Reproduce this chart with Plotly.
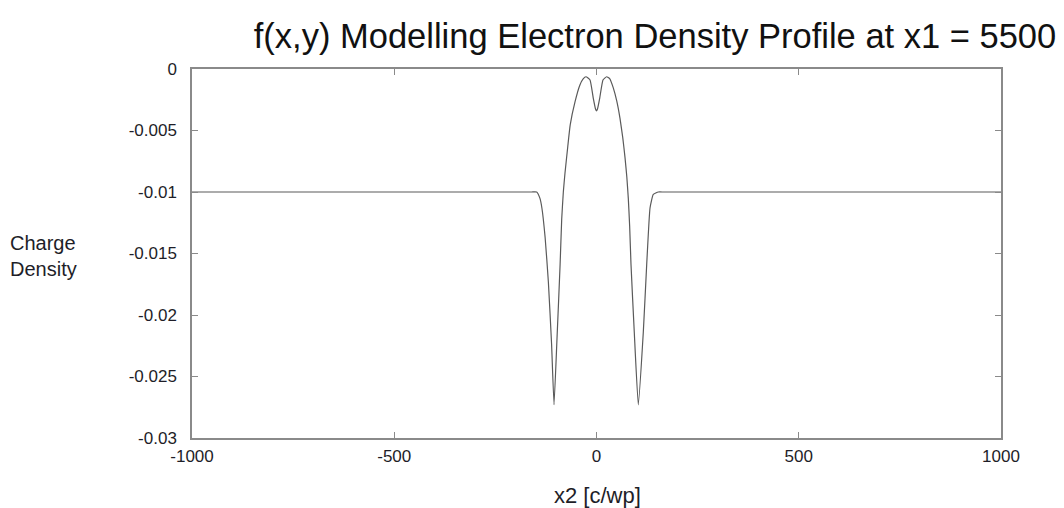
import plotly.graph_objects as go

# Data
x2 = [-1000, -600, -300, -175, -160, -148, -140, -135, -127, -119, -111, -105,
      -98, -90, -86, -82, -78, -71, -65, -53, -41, -33, -26, -16, -8, -2, 0, 2,
      8, 16, 25, 33, 41.5, 50, 58, 65, 70.5, 75, 78.6, 82, 85.3, 93.4, 103.3,
      115.7, 124.1, 132.3, 140.4, 152.8, 165, 180, 300, 600, 1000]
charge_density = [-0.01, -0.01, -0.01, -0.01, -0.01, -0.01, -0.0105, -0.0113,
                  -0.0137, -0.0173, -0.0224, -0.0273, -0.0222, -0.0159,
                  -0.0122, -0.0100, -0.0085, -0.0063, -0.00455, -0.00266,
                  -0.0013, -0.0008, -0.00063, -0.00089, -0.00236, -0.0033,
                  -0.0034, -0.0033, -0.00236, -0.00089, -0.00063, -0.0008,
                  -0.00154, -0.0026, -0.0040, -0.0056, -0.0072, -0.0088,
                  -0.0105, -0.0128, -0.0159, -0.0214, -0.0273, -0.0214,
                  -0.0159, -0.0113, -0.0102, -0.0100, -0.0100, -0.0100,
                  -0.0100, -0.0100, -0.0100]

x_ticks = [-1000, -500, 0, 500, 1000]
y_ticks = [0, -0.005, -0.01, -0.015, -0.02, -0.025, -0.03]
y_tick_labels = ["0", "-0.005", "-0.01", "-0.015", "-0.02", "-0.025", "-0.03"]

FONT = "Liberation Sans, Arial, sans-serif"
TXT = "#1e1e28"

fig = go.Figure()
fig.add_trace(go.Scatter(
    x=x2, y=charge_density, mode="lines",
    line=dict(color="#5a5a5a", width=1.2, shape="spline", smoothing=0.4),
    showlegend=False, hoverinfo="skip",
))

axis_common = dict(
    showgrid=False, zeroline=False, showline=True, linecolor="#8a8a8a",
    linewidth=1.5, mirror="ticks", ticks="inside", ticklen=6,
    tickcolor="#8a8a8a", tickwidth=1.2,
    tickfont=dict(family=FONT, size=17, color=TXT),
)

fig.update_xaxes(range=[-1000, 1000], tickvals=x_ticks,
                 ticktext=[str(v) for v in x_ticks], ticklabelstandoff=2,
                 **axis_common)
fig.update_yaxes(range=[-0.03, 0], tickvals=y_ticks, ticktext=y_tick_labels,
                 ticklabelstandoff=10, **axis_common)

def px_x(p):
    return (p - 192) / 809

def px_y(p):
    return (438 - p) / 369

fig.update_layout(
    width=1064, height=508,
    margin=dict(l=192, r=63, t=69, b=70),
    paper_bgcolor="white", plot_bgcolor="white",
    title=dict(text="f(x,y) Modelling Electron Density Profile at x1 = 5500",
               font=dict(family=FONT, size=34.5, color="#111111"),
               x=px_x(655), xref="paper", xanchor="center",
               y=1 - 36 / 508, yref="container", yanchor="middle"),
    annotations=[
        dict(text="Charge<br>Density", xref="paper", yref="paper",
             x=px_x(8), y=px_y(256), xanchor="left", yanchor="middle",
             align="left", showarrow=False,
             font=dict(family=FONT, size=20, color=TXT)),
        dict(text="x2 [c/wp]", xref="paper", yref="paper",
             x=px_x(597), y=px_y(495), xanchor="center",
             yanchor="middle", showarrow=False,
             font=dict(family=FONT, size=22, color=TXT)),
    ],
)

fig.write_html("out.html")
